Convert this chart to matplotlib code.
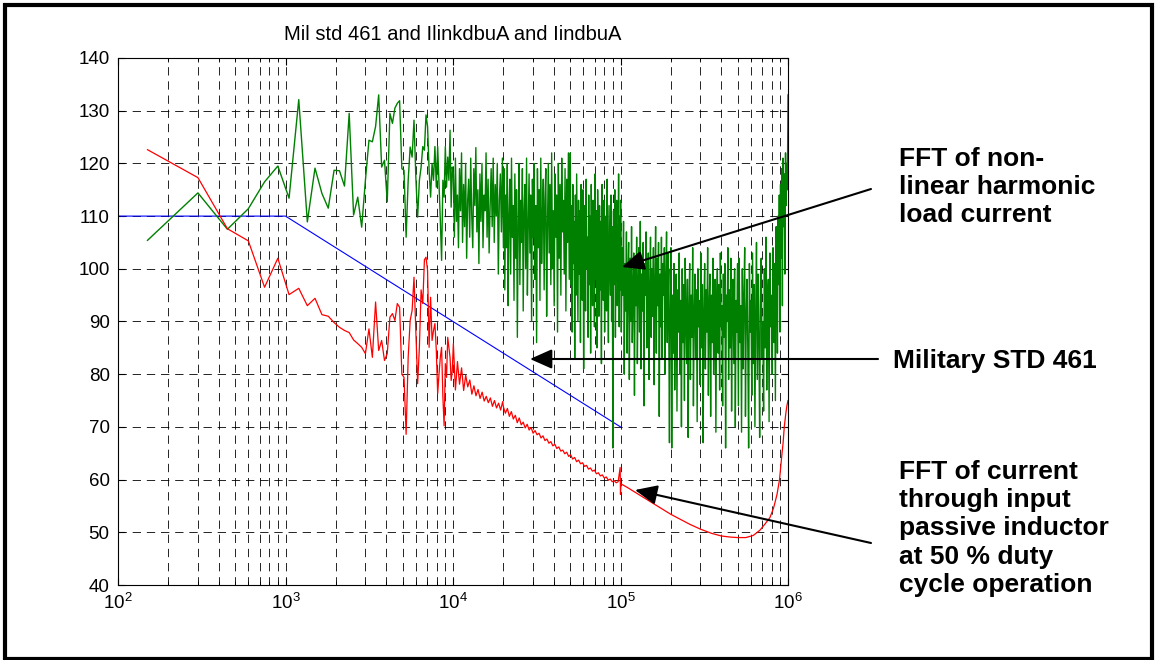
import numpy as np
import matplotlib.pyplot as plt
from matplotlib.patches import Rectangle

plt.rcParams['font.family'] = ['Liberation Sans', 'DejaVu Sans']
plt.rcParams['mathtext.default'] = 'regular'

# harmonics of 150 Hz that can be read one by one (150 Hz .. 9.9 kHz)
freq_low = [150 * k for k in range(1, 67)]

green_low = [105.4, 114.4, 107.5, 111.4, 116.5, 119.5, 113.4, 132.1, 108.9, 119.1,
             114.3, 111.5, 118.7, 118.6, 115.7, 129.5, 110.2, 113.6, 107.9, 116.8,
             124.4, 124.1, 127.0, 133.0, 119.3, 120.6, 112.7, 129.5, 127.6, 130.5,
             131.4, 131.9, 119.0, 118.7, 106.0, 116.8, 123.1, 121.2, 128.2, 117.4,
             109.8, 116.8, 119.3, 123.2, 122.5, 129.2, 127.0, 118.7, 113.6, 120.0,
             116.8, 123.2, 115.5, 123.2, 116.2, 109.2, 101.6, 116.8, 113.6, 123.2,
             115.5, 121.2, 116.8, 126.3, 111.7, 119.3]

red_low = [122.6, 117.3, 107.6, 105.3, 96.5, 102.0, 95.1, 96.3, 93.0, 94.4,
           91.3, 91.0, 89.8, 88.9, 88.3, 87.9, 86.5, 85.8, 85.1, 83.9,
           88.6, 83.2, 93.7, 84.5, 86.4, 82.6, 83.9, 90.8, 91.5, 90.2,
           93.4, 92.7, 80.0, 79.4, 68.6, 83.2, 90.2, 92.1, 98.4, 88.3,
           78.2, 85.1, 96.0, 93.4, 101.7, 102.2, 99.7, 85.1, 94.6, 86.4,
           88.3, 89.6, 84.5, 76.3, 80.0, 83.2, 85.1, 75.7, 70.2, 82.0,
           79.4, 87.0, 85.1, 83.2, 78.8, 80.7]

# dense part of the load current spectrum, read band by band (start Hz, end Hz, values)
green_bands = [
    (10050, 20000, [118, 106, 121, 109, 114, 104, 119, 111, 122, 105, 116, 108, 120, 102, 113,
                    117, 106, 121, 110, 104, 119, 112, 123, 107, 115, 101, 118, 109, 120, 104,
                    114, 111, 122, 106, 117, 103, 112, 119, 108, 121, 105, 116, 110, 120, 99,
                    113, 118, 107, 121, 104]),
    (20150, 50000, [119, 96, 114, 104, 120, 93, 110, 117, 99, 121, 106, 112, 94, 118, 102,
                    115, 87, 109, 120, 97, 113, 105, 119, 92, 111, 116, 100, 121, 95, 108,
                    118, 103, 114, 90, 117, 106, 120, 98, 112, 86, 119, 104, 115, 94, 121,
                    101, 110, 117, 96, 113, 119, 91, 108, 120, 103, 116, 97, 122, 100, 111,
                    93, 118, 106, 114, 88, 120, 102, 116, 95, 121, 107, 113, 99, 119, 92,
                    117, 105, 122, 98, 115]),
    (50150, 100000, [122, 97, 112, 88, 116, 101, 109, 83, 114, 95, 118, 104, 90, 113, 99,
                     111, 86, 116, 103, 94, 115, 81, 108, 112, 92, 117, 100, 106, 87, 114,
                     97, 110, 84, 116, 102, 93, 113, 107, 89, 118, 98, 111, 85, 115, 104,
                     91, 112, 96, 109, 82, 116, 101, 94, 113, 88, 110, 105, 92, 117, 99,
                     86, 112, 103, 95, 114, 90, 108, 66, 111, 97, 115, 87, 106, 113, 93,
                     100, 118, 89, 110, 96]),
    (100150, 200000, [113, 88, 104, 95, 109, 80, 101, 92, 107, 84, 98, 105, 79, 102, 90,
                      108, 86, 96, 103, 76, 100, 93, 106, 82, 97, 104, 88, 109, 81, 99,
                      92, 105, 74, 101, 95, 107, 85, 98, 103, 79, 96, 106, 87, 100, 91,
                      104, 78, 97, 108, 84, 102, 93, 105, 72, 99, 89, 106, 83, 101, 95,
                      104, 80, 98, 107, 86, 103, 90, 67, 100, 94]),
    (200150, 500000, [104, 66, 95, 84, 101, 77, 92, 99, 73, 96, 88, 103, 80, 94, 70,
                      100, 86, 97, 75, 102, 90, 82, 98, 68, 93, 101, 79, 95, 87, 104,
                      74, 91, 99, 83, 96, 71, 100, 89, 94, 78, 103, 85, 97, 67, 92,
                      101, 81, 96, 88, 104, 76, 93, 99, 72, 95, 86, 102, 80, 91, 98,
                      69, 94, 100, 84, 97, 77, 103, 89, 93, 74, 99, 87, 101, 66, 95,
                      90, 104, 79, 96, 85, 102, 73, 92, 98, 82, 100, 70, 94, 88, 101]),
    (500150, 850000, [97, 74, 102, 86, 93, 69, 100, 81, 95, 104, 72, 91, 98, 84, 66,
                      101, 88, 94, 76, 103, 82, 97, 70, 92, 105, 79, 99, 87, 68, 96,
                      102, 83, 90, 73, 100, 85, 106, 77, 94, 98, 71, 103, 89, 95, 80,
                      104, 86, 101, 75, 108]),
    (850150, 1000000, [92, 106, 84, 110, 97, 114, 88, 116, 102, 119, 93, 121, 108, 118, 99,
                       122, 112, 120, 115, 133]),
]

# inductor current above 10 kHz
red_bands = [
    (10050, 19800, [85.8, 77.0, 82.4, 78.1, 81.2, 76.9, 79.8, 77.6, 78.9, 76.2, 77.8, 75.9,
                    77.1, 75.4, 76.6, 74.9, 75.8, 74.6, 75.5, 73.9, 75.0, 73.6, 74.5, 73.2,
                    74.8]),
    (20000, 99500, [73.8, 72.6, 73.5, 72.0, 72.9, 71.5, 72.2, 70.8, 71.7, 70.4, 70.9, 69.8,
                    70.5, 69.4, 69.9, 68.8, 69.3, 68.5, 68.8, 67.9, 68.3, 67.4, 67.7, 66.9,
                    67.2, 66.4, 66.7, 65.9, 66.2, 65.4, 65.6, 64.9, 65.2, 64.4, 64.7, 63.9,
                    64.2, 63.4, 63.7, 63.0, 63.2, 62.5, 62.7, 62.0, 62.2, 61.6, 61.8, 61.1,
                    61.3, 60.7, 60.9, 60.3, 60.5, 59.9, 60.1, 59.6, 59.8, 59.4, 59.6, 62.3]),
]
red_tail_f = [100000, 100500, 110000, 125000, 140000, 160000, 180000, 200000, 230000,
              260000, 300000, 350000, 400000, 450000, 500000, 560000, 620000, 680000,
              730000, 780000, 820000, 860000, 890000, 912000, 935000, 950000, 970000,
              985000, 1000000]
red_tail = [57.2, 59.2, 58.5, 57.4, 56.4, 55.3, 54.3, 53.4, 52.4, 51.5, 50.6, 49.8, 49.3,
            49.1, 49.0, 49.0, 49.4, 50.4, 51.6, 52.8, 54.6, 57.2, 60.0, 63.6, 67.0, 70.0,
            72.5, 74.0, 75.0]

# Mil std 461 limit line
mil_f = [100, 1000, 100000]
mil_db = [110, 110, 70]


def join(f0, v0, bands):
    f = list(f0)
    v = list(v0)
    for a, b, vals in bands:
        f += list(np.geomspace(a, b, len(vals)))
        v += vals
    return f, v


green_f, green_v = join(freq_low, green_low, green_bands)
red_f, red_v = join(freq_low, red_low, red_bands)
red_f += red_tail_f
red_v += red_tail

W, H = 1155, 660
fig = plt.figure(figsize=(W / 100, H / 100), dpi=100)
ax = fig.add_axes([118 / W, 1 - 585 / H, (788 - 118) / W, (585 - 58) / H])

ax.semilogx(mil_f, mil_db, color='#0000ff', lw=0.8)
ax.semilogx(green_f, green_v, color='#008000', lw=1.0)
ax.semilogx(red_f, red_v, color='#ff0000', lw=0.9)

ax.set_xlim(1e2, 1e6)
ax.set_ylim(40, 140)
ax.set_yticks(range(40, 141, 10))
ax.grid(True, which='both', axis='x', ls=(0, (10, 7)), color='k', lw=0.6)
ax.grid(True, which='major', axis='y', ls=(0, (10, 7)), color='k', lw=0.6)
ax.tick_params(which='both', direction='in', top=True, right=True, labelsize=13.5)
ax.tick_params(which='major', length=5, pad=6)
ax.tick_params(which='minor', length=3)
for s in ax.spines.values():
    s.set_linewidth(0.8)
ax.set_title('Mil std 461 and IlinkdbuA and IindbuA', fontsize=14.5, pad=13)


def fp(x, y):
    return (x / W, 1 - y / H)


arrow = dict(arrowstyle='-|>,head_length=0.45,head_width=0.2', color='k', lw=1.5,
             mutation_scale=30, shrinkA=0, shrinkB=0)
ax.annotate('', xy=fp(622, 267), xytext=fp(871, 189), xycoords='figure fraction',
            textcoords='figure fraction', arrowprops=arrow)
ax.annotate('', xy=fp(530, 359), xytext=fp(878, 359), xycoords='figure fraction',
            textcoords='figure fraction', arrowprops=arrow)
ax.annotate('', xy=fp(635, 490), xytext=fp(871, 543), xycoords='figure fraction',
            textcoords='figure fraction', arrowprops=arrow)

lab = dict(fontsize=19, fontweight='bold', ha='left', linespacing=1.22)
fig.text(*fp(899, 147), 'FFT of non-\nlinear harmonic\nload current', va='top', **lab)
fig.text(*fp(893, 368), 'Military STD 461', va='baseline', **lab)
fig.text(*fp(899, 460), 'FFT of current\nthrough input\npassive inductor\nat 50 % duty\ncycle operation',
         va='top', **lab)

fig.patches.append(Rectangle(fp(5.3, 658.5), (1151.5 - 5.3) / W, (658.5 - 5.3) / H,
                             transform=fig.transFigure, fill=False, ec='k', lw=3))

fig.savefig('out.png', dpi=100)
